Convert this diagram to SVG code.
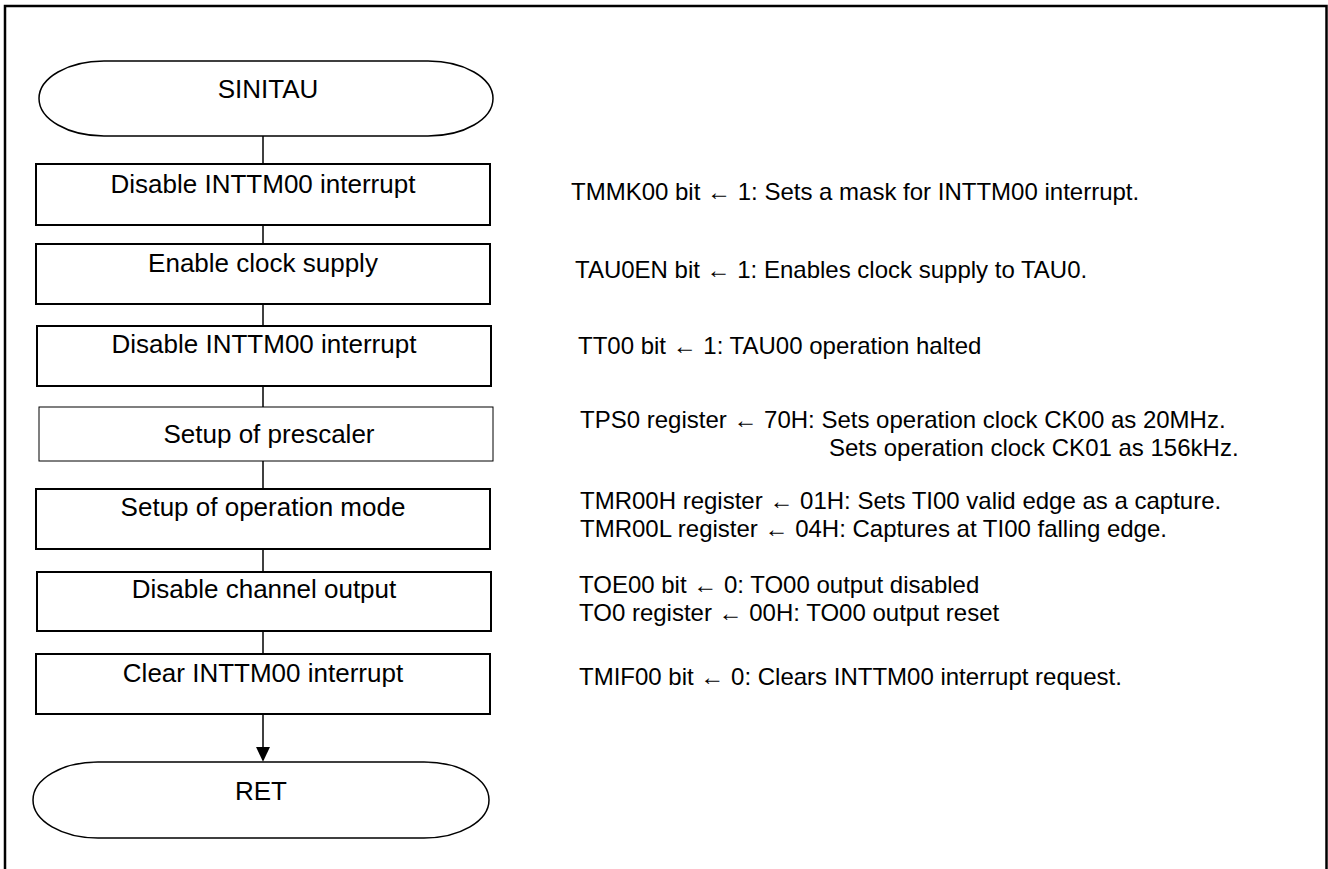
<svg xmlns="http://www.w3.org/2000/svg" width="1328" height="869" viewBox="0 0 1328 869">
<defs>
<style>
.box{fill:#fff;stroke:#000;stroke-width:2}
.thin{fill:#fff;stroke:#000;stroke-width:1}
.term{fill:#fff;stroke:#000;stroke-width:1.5}
.lbl{font-family:"Liberation Sans",Arial,sans-serif;font-size:26px;fill:#000;text-anchor:middle}
.note{font-family:"Liberation Sans",Arial,sans-serif;font-size:24px;fill:#000}
.conn{stroke:#000;stroke-width:1.5;fill:none}
</style>
<marker id="arr" markerWidth="16" markerHeight="18" refX="15" refY="8" orient="auto" markerUnits="userSpaceOnUse" viewBox="0 0 18 16">
<path d="M0,0 L17,8 L0,16 Z" fill="#000"/>
</marker>
</defs>
<rect x="5" y="6" width="1321.5" height="900" fill="none" stroke="#000" stroke-width="2.5"/>
<g id="connectors">
<line class="conn" x1="263" y1="136" x2="263" y2="164"/>
<line class="conn" x1="263" y1="225" x2="263" y2="244"/>
<line class="conn" x1="263" y1="304" x2="263" y2="326"/>
<line class="conn" x1="263" y1="386" x2="263" y2="407"/>
<line class="conn" x1="263" y1="461" x2="263" y2="489"/>
<line class="conn" x1="263" y1="549" x2="263" y2="572"/>
<line class="conn" x1="263" y1="631" x2="263" y2="654"/>
<line class="conn" x1="263" y1="714" x2="263" y2="760" marker-end="url(#arr)"/>
</g>
<g id="start">
<rect class="term" x="39" y="61" width="454" height="75" rx="65" ry="37.5"/>
<text class="lbl" x="268" y="98">SINITAU</text>
</g>
<g id="n1">
<rect class="box" x="36" y="164" width="454" height="61"/>
<text class="lbl" x="263" y="193">Disable INTTM00 interrupt</text>
</g>
<g id="n2">
<rect class="box" x="36" y="244" width="454" height="60"/>
<text class="lbl" x="263" y="272">Enable clock supply</text>
</g>
<g id="n3">
<rect class="box" x="37" y="326" width="454" height="60"/>
<text class="lbl" x="264" y="353">Disable INTTM00 interrupt</text>
</g>
<g id="n4">
<rect class="thin" x="39" y="407" width="454" height="54"/>
<text class="lbl" x="269" y="443">Setup of prescaler</text>
</g>
<g id="n5">
<rect class="box" x="36" y="489" width="454" height="60"/>
<text class="lbl" x="263" y="516">Setup of operation mode</text>
</g>
<g id="n6">
<rect class="box" x="37" y="572" width="454" height="59"/>
<text class="lbl" x="264" y="598">Disable channel output</text>
</g>
<g id="n7">
<rect class="box" x="36" y="654" width="454" height="60"/>
<text class="lbl" x="263" y="682">Clear INTTM00 interrupt</text>
</g>
<g id="end">
<rect class="term" x="33" y="762" width="456" height="76" rx="65" ry="38"/>
<text class="lbl" x="261" y="800">RET</text>
</g>
<g id="notes">
<text class="note" x="571" y="200">TMMK00 bit ← 1: Sets a mask for INTTM00 interrupt.</text>
<text class="note" x="575" y="278">TAU0EN bit ← 1: Enables clock supply to TAU0.</text>
<text class="note" x="578" y="354">TT00 bit ← 1: TAU00 operation halted</text>
<text class="note" x="580" y="428">TPS0 register ← 70H: Sets operation clock CK00 as 20MHz.</text>
<text class="note" x="829" y="456">Sets operation clock CK01 as 156kHz.</text>
<text class="note" x="580" y="509">TMR00H register ← 01H: Sets TI00 valid edge as a capture.</text>
<text class="note" x="580" y="537">TMR00L register ← 04H: Captures at TI00 falling edge.</text>
<text class="note" x="579" y="593">TOE00 bit ← 0: TO00 output disabled</text>
<text class="note" x="579" y="621">TO0 register ← 00H: TO00 output reset</text>
<text class="note" x="579" y="685">TMIF00 bit ← 0: Clears INTTM00 interrupt request.</text>
</g>
</svg>
